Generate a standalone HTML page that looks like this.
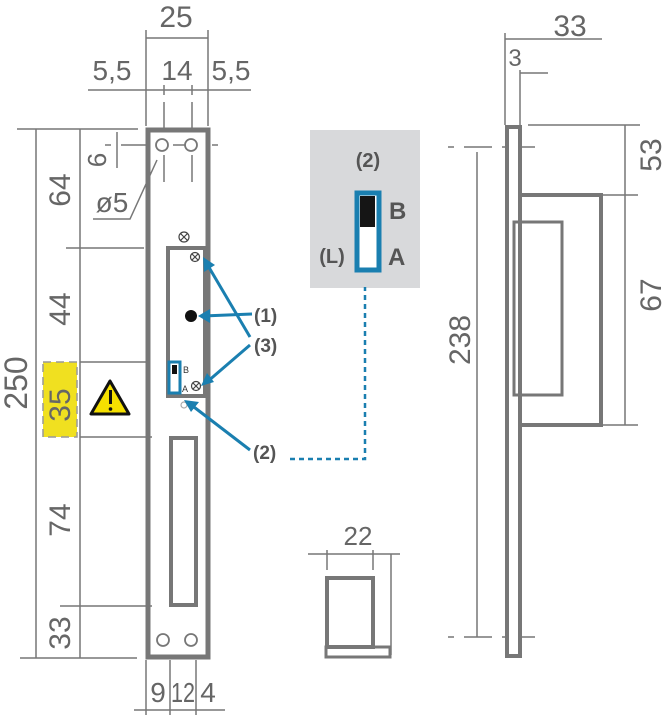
<!DOCTYPE html>
<html><head><style>body{margin:0;background:#fff}svg{display:block}</style></head><body>
<svg width="662" height="720" viewBox="0 0 662 720" xmlns="http://www.w3.org/2000/svg" font-family="Liberation Sans, sans-serif">
<g stroke="#777" fill="none">
<line x1="146" y1="30" x2="146" y2="126" stroke-width="1.5"/>
<line x1="208" y1="30" x2="208" y2="126" stroke-width="1.5"/>
<line x1="146" y1="38" x2="208" y2="38" stroke-width="1.5"/>
<line x1="88" y1="90" x2="251" y2="90" stroke-width="1.5"/>
<line x1="164" y1="85" x2="164" y2="95" stroke-width="1.5"/>
<line x1="192" y1="85" x2="192" y2="95" stroke-width="1.5"/>
<line x1="164" y1="102" x2="164" y2="128" stroke-width="1.5"/>
<line x1="192" y1="102" x2="192" y2="128" stroke-width="1.5"/>
<line x1="164" y1="155" x2="164" y2="182" stroke-width="1.5"/>
<line x1="192" y1="155" x2="192" y2="182" stroke-width="1.5"/>
<line x1="17" y1="129" x2="138" y2="129" stroke-width="1.5"/>
<line x1="36" y1="129" x2="36" y2="658" stroke-width="1.5"/>
<line x1="80" y1="129" x2="80" y2="658" stroke-width="1.5"/>
<line x1="66" y1="248" x2="144" y2="248" stroke-width="1.5"/>
<line x1="80" y1="362" x2="150" y2="362" stroke-width="1.5"/>
<line x1="80" y1="437" x2="152" y2="437" stroke-width="1.5"/>
<line x1="60" y1="606" x2="152" y2="606" stroke-width="1.5"/>
<line x1="20" y1="658" x2="137" y2="658" stroke-width="1.5"/>
<line x1="117" y1="132" x2="117" y2="168" stroke-width="1.5"/>
<line x1="105" y1="145" x2="111" y2="145" stroke-width="1.5"/>
<line x1="121" y1="145" x2="148" y2="145" stroke-width="1.5"/>
<line x1="173" y1="145" x2="185" y2="145" stroke-width="1.5"/>
<line x1="212" y1="145" x2="218" y2="145" stroke-width="1.5"/>
<polyline points="157,160 130,219 93,219" stroke-width="1.5"/>
<rect x="148" y="130" width="60" height="527" stroke-width="5"/>
<rect x="168" y="248" width="37" height="148" stroke-width="4"/>
<rect x="171" y="438" width="25" height="167" stroke-width="4"/>
<circle cx="162" cy="145" r="6" stroke-width="1.8"/>
<circle cx="191" cy="145" r="6" stroke-width="1.8"/>
<circle cx="163" cy="640" r="6" stroke-width="1.8"/>
<circle cx="191" cy="640" r="6" stroke-width="1.8"/>
<line x1="146" y1="660" x2="146" y2="715" stroke-width="1.5"/>
<line x1="170" y1="660" x2="170" y2="715" stroke-width="1.5"/>
<line x1="196" y1="660" x2="196" y2="715" stroke-width="1.5"/>
<line x1="134" y1="710" x2="225" y2="710" stroke-width="1.5"/>
<line x1="308" y1="554" x2="400" y2="554" stroke-width="1.5"/>
<line x1="327" y1="550" x2="327" y2="570" stroke-width="1.5"/>
<line x1="373" y1="550" x2="373" y2="570" stroke-width="1.5"/>
<line x1="391" y1="554" x2="391" y2="655" stroke-width="1.5"/>
<rect x="327" y="578" width="46" height="69" stroke-width="4"/>
<rect x="326" y="647" width="64" height="10" stroke-width="3"/>
<line x1="505" y1="33" x2="505" y2="125" stroke-width="1.5"/>
<line x1="505" y1="39" x2="602" y2="39" stroke-width="1.5"/>
<line x1="520" y1="70" x2="520" y2="125" stroke-width="1.5"/>
<line x1="520" y1="73" x2="548" y2="73" stroke-width="1.5"/>
<line x1="528" y1="125" x2="640" y2="125" stroke-width="1.5"/>
<line x1="600" y1="195" x2="638" y2="195" stroke-width="1.5"/>
<line x1="600" y1="425" x2="638" y2="425" stroke-width="1.5"/>
<line x1="625" y1="125" x2="625" y2="425" stroke-width="1.5"/>
<line x1="477" y1="152" x2="477" y2="637" stroke-width="1.5"/>
<line x1="448" y1="147" x2="535" y2="147" stroke-width="1.5" stroke-dasharray="6,10,28,10"/>
<line x1="448" y1="637" x2="535" y2="637" stroke-width="1.5" stroke-dasharray="6,10,28,10"/>
<rect x="507" y="127" width="13" height="529" stroke-width="4"/>
<polyline points="520,195 601,195 601,425 520,425" stroke-width="4"/>
<rect x="514" y="222" width="48" height="173" stroke-width="3"/>
</g>
<rect x="43" y="362" width="34" height="75" fill="#f0e020"/>
<rect x="43" y="362" width="34" height="75" fill="none" stroke="#999" stroke-width="1.5" stroke-dasharray="8,5"/>
<polygon points="110,381 91,414 129,414" fill="#f5e000" stroke="#111" stroke-width="3" stroke-linejoin="round"/>
<rect x="109" y="390" width="3" height="14" fill="#111"/><circle cx="110.5" cy="409" r="1.8" fill="#111"/>
<g stroke="#444" fill="none" stroke-width="1.2">
<circle cx="184" cy="237" r="5"/><line x1="180.5" y1="233.5" x2="187.5" y2="240.5"/><line x1="187.5" y1="233.5" x2="180.5" y2="240.5"/>
<circle cx="195" cy="257" r="4.5"/><line x1="192" y1="254" x2="198" y2="260"/><line x1="198" y1="254" x2="192" y2="260"/>
<circle cx="196" cy="386" r="4.5"/><line x1="193" y1="383" x2="199" y2="389"/><line x1="199" y1="383" x2="193" y2="389"/>
<circle cx="184" cy="405" r="3" stroke="#aaa"/>
</g>
<circle cx="191" cy="316" r="6" fill="#111"/>
<rect x="169" y="362" width="11" height="31" fill="none" stroke="#1a7fb0" stroke-width="3"/>
<rect x="172" y="365" width="5" height="9" fill="#111"/>
<text x="183" y="373" font-size="9" fill="#333">B</text>
<text x="182" y="392" font-size="9" fill="#333">A</text>
<rect x="310" y="130" width="110" height="158" fill="#d8d9db"/>
<text x="368" y="167" font-size="20" font-weight="bold" fill="#555" text-anchor="middle">(2)</text>
<rect x="357" y="193" width="22" height="77" fill="#fff" stroke="#1a7fb0" stroke-width="5"/>
<rect x="360" y="196" width="15" height="31" fill="#151515"/>
<text x="389" y="219" font-size="24" font-weight="bold" fill="#555">B</text>
<text x="388" y="265" font-size="24" font-weight="bold" fill="#555">A</text>
<text x="332" y="263" font-size="20" font-weight="bold" fill="#555" text-anchor="middle">(L)</text>
<g stroke="#1a7fb0" stroke-width="3" fill="none">
<line x1="252" y1="314" x2="203" y2="316"/>
<line x1="250" y1="337" x2="207" y2="264"/>
<line x1="250" y1="345" x2="207" y2="382"/>
<line x1="250" y1="450" x2="190" y2="404"/>
<polyline points="290,459 365,459 365,287" stroke-width="2.5" stroke-dasharray="5,4"/>
</g>
<g fill="#1a7fb0">
<polygon points="198,316 210,309 210,323"/>
<polygon points="203,257 204,272 215,265"/>
<polygon points="201,386 207,373 214,382"/>
<polygon points="184,400 199,402 191,412"/>
</g>
<g font-size="19" font-weight="bold" fill="#555">
<text x="254" y="322">(1)</text>
<text x="254" y="352">(3)</text>
<text x="253" y="459">(2)</text>
</g>
<g fill="#666" font-size="30">
<text x="176" y="27" text-anchor="middle">25</text>
<text x="112" y="80" text-anchor="middle" font-size="28">5,5</text>
<text x="177" y="80" text-anchor="middle" font-size="28">14</text>
<text x="231" y="80" text-anchor="middle" font-size="28">5,5</text>
<text x="112" y="212" text-anchor="middle" font-size="28">ø5</text>
<text x="570" y="36" text-anchor="middle">33</text>
<text x="515" y="66" text-anchor="middle" font-size="24">3</text>
<text x="358" y="545" text-anchor="middle" font-size="26">22</text>
<text x="158" y="702" text-anchor="middle" font-size="28">9</text>
<text x="183" y="702" text-anchor="middle" font-size="28" textLength="24" lengthAdjust="spacingAndGlyphs">12</text>
<text x="208" y="702" text-anchor="middle" font-size="28">4</text>
<text transform="translate(70,190) rotate(-90)" text-anchor="middle">64</text>
<text transform="translate(70,309) rotate(-90)" text-anchor="middle">44</text>
<text transform="translate(70,405) rotate(-90)" text-anchor="middle">35</text>
<text transform="translate(70,520) rotate(-90)" text-anchor="middle">74</text>
<text transform="translate(70,633) rotate(-90)" text-anchor="middle">33</text>
<text transform="translate(27,383) rotate(-90)" text-anchor="middle" font-size="32">250</text>
<text transform="translate(106,160) rotate(-90)" text-anchor="middle" font-size="26">6</text>
<text transform="translate(470,340) rotate(-90)" text-anchor="middle">238</text>
<text transform="translate(661,155) rotate(-90)" text-anchor="middle">53</text>
<text transform="translate(661,295) rotate(-90)" text-anchor="middle">67</text>
</g>
</svg>
</body></html>
